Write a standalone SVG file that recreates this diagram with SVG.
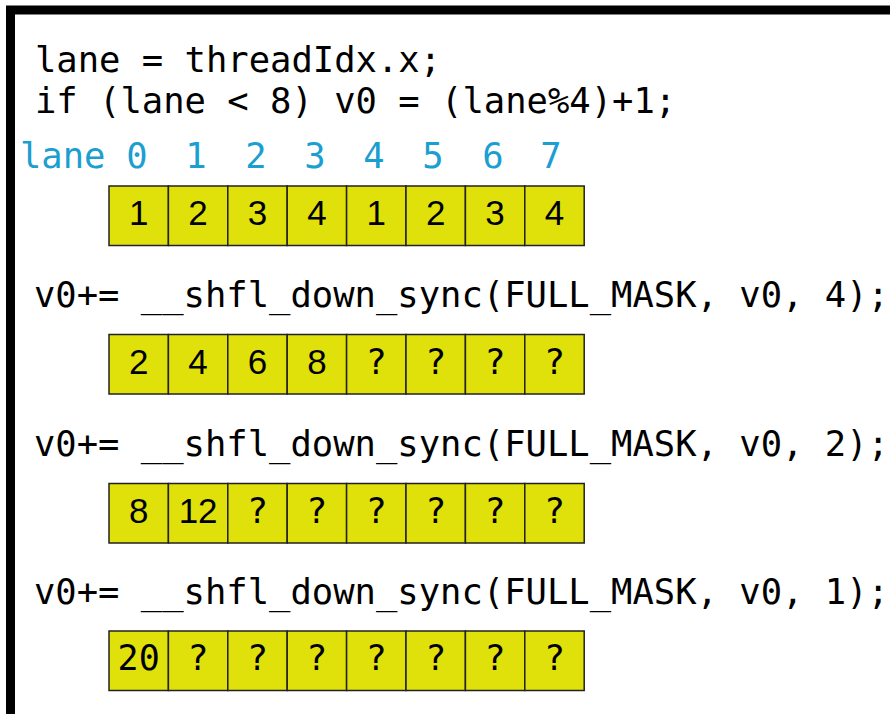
<svg xmlns="http://www.w3.org/2000/svg" width="890" height="714" viewBox="0 0 890 714">
<style>
.code{font-family:"DejaVu Sans Mono","Liberation Mono",monospace;font-size:35.5px;fill:#000}
.lane{font-family:"DejaVu Sans Mono","Liberation Mono",monospace;font-size:35.5px;fill:#1b9ed0}
.cell{fill:#e0e00b;stroke:#222;stroke-width:1.5}
.num{font-family:"Liberation Sans",Arial,sans-serif;font-size:35px;fill:#000;text-anchor:middle}
.mono{font-family:"DejaVu Sans Mono","Liberation Mono",monospace;font-size:35px;fill:#000;text-anchor:middle}
</style>
<defs>
<g id="row">
<rect class="cell" x="109" y="0" width="59.4" height="59.5"/>
<rect class="cell" x="168.4" y="0" width="59.4" height="59.5"/>
<rect class="cell" x="227.8" y="0" width="59.4" height="59.5"/>
<rect class="cell" x="287.2" y="0" width="59.4" height="59.5"/>
<rect class="cell" x="346.6" y="0" width="59.4" height="59.5"/>
<rect class="cell" x="406" y="0" width="59.4" height="59.5"/>
<rect class="cell" x="465.4" y="0" width="59.4" height="59.5"/>
<rect class="cell" x="524.8" y="0" width="59.4" height="59.5"/>
</g>
</defs>
<rect width="890" height="714" fill="#fff"/>
<path d="M10.5,714 V10 H890" fill="none" stroke="#000" stroke-width="9"/>
<g id="code">
<text class="code" x="35" y="72">lane = threadIdx.x;</text>
<text class="code" x="35" y="113">if (lane &lt; 8) v0 = (lane%4)+1;</text>
</g>
<g id="lanes">
<text class="lane" x="20" y="168">lane</text>
<g style="text-anchor:middle">
<text class="lane" x="137" y="168">0</text>
<text class="lane" x="196" y="168">1</text>
<text class="lane" x="256" y="168">2</text>
<text class="lane" x="315" y="168">3</text>
<text class="lane" x="374" y="168">4</text>
<text class="lane" x="433" y="168">5</text>
<text class="lane" x="493" y="168">6</text>
<text class="lane" x="551" y="168">7</text>
</g>
</g>
<g id="row1">
<use href="#row" y="186"/>
<text class="num" x="138.7" y="225">1</text>
<text class="num" x="198.1" y="225">2</text>
<text class="num" x="257.5" y="225">3</text>
<text class="num" x="316.9" y="225">4</text>
<text class="num" x="376.3" y="225">1</text>
<text class="num" x="435.7" y="225">2</text>
<text class="num" x="495.1" y="225">3</text>
<text class="num" x="554.5" y="225">4</text>
</g>
<text id="shfl4" class="code" x="34" y="307">v0+= __shfl_down_sync(FULL_MASK, v0, 4);</text>
<g id="row2">
<use href="#row" y="334.5"/>
<text class="num" x="138.7" y="373.5">2</text>
<text class="num" x="198.1" y="373.5">4</text>
<text class="num" x="257.5" y="373.5">6</text>
<text class="num" x="316.9" y="373.5">8</text>
<text class="mono" x="376.3" y="373.5">?</text>
<text class="mono" x="435.7" y="373.5">?</text>
<text class="mono" x="495.1" y="373.5">?</text>
<text class="mono" x="554.5" y="373.5">?</text>
</g>
<text id="shfl2" class="code" x="34" y="455.5">v0+= __shfl_down_sync(FULL_MASK, v0, 2);</text>
<g id="row3">
<use href="#row" y="483.5"/>
<text class="num" x="138.7" y="522.5">8</text>
<text class="num" x="198.1" y="522.5">12</text>
<text class="mono" x="257.5" y="522.5">?</text>
<text class="mono" x="316.9" y="522.5">?</text>
<text class="mono" x="376.3" y="522.5">?</text>
<text class="mono" x="435.7" y="522.5">?</text>
<text class="mono" x="495.1" y="522.5">?</text>
<text class="mono" x="554.5" y="522.5">?</text>
</g>
<text id="shfl1" class="code" x="34" y="604">v0+= __shfl_down_sync(FULL_MASK, v0, 1);</text>
<g id="row4">
<use href="#row" y="631"/>
<text class="mono" x="138.7" y="670">20</text>
<text class="mono" x="198.1" y="670">?</text>
<text class="mono" x="257.5" y="670">?</text>
<text class="mono" x="316.9" y="670">?</text>
<text class="mono" x="376.3" y="670">?</text>
<text class="mono" x="435.7" y="670">?</text>
<text class="mono" x="495.1" y="670">?</text>
<text class="mono" x="554.5" y="670">?</text>
</g>
</svg>
